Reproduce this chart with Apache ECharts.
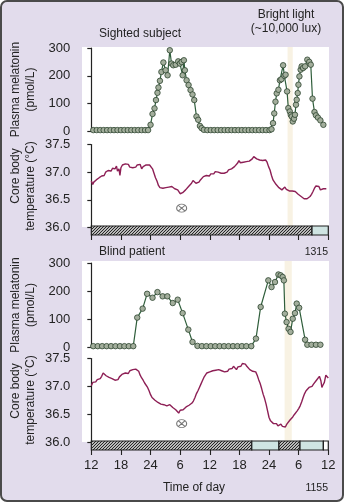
<!DOCTYPE html>
<html>
<head>
<meta charset="utf-8">
<script src="https://cdn.jsdelivr.net/npm/echarts@6/dist/echarts.min.js"></script>
<style>
  html, body { margin: 0; padding: 0; background: #ffffff; }
  #chart { width: 344px; height: 502px; }
</style>
</head>
<body>
<div id="chart"></div>
<script>
// Time is measured in hours from noon of the first day (0 .. 48).
const tickLabels = ['12', '18', '24', '6', '12', '18', '24', '6', '12'];

// Sighted subject: plasma melatonin (pmol/L)
const sightedMelatonin = [
  [0.4,5],[1.1,5],[1.8,5],[2.5,5],[3.2,5],[3.9,5],[4.6,5],[5.3,5],[6.0,5],[6.7,5],[7.4,5],[8.1,5],[8.8,5],[9.5,5],[10.2,5],[10.9,5],[11.5,5],
  [12.0,24],[12.4,63],[12.8,83],[13.1,113],[13.4,139],[13.6,158],[13.9,182],[14.2,214],[14.6,248],[15.05,220],[15.45,202],[15.9,292],
  [16.25,244],[16.6,238],[17.1,240],[17.6,252],[17.95,244],[18.3,250],[18.5,202],[18.75,256],[18.95,220],[19.3,184],[19.7,167],
  [20.1,149],[20.5,133],[20.85,113],[21.3,54],[21.65,42],[22.0,20],[22.35,12],[22.8,6],
  [23.5,5],[24.2,5],[24.9,5],[25.6,5],[26.3,5],[27.0,5],[27.7,5],[28.4,5],[29.1,5],[29.8,5],[30.5,5],[31.2,5],[31.9,5],[32.6,5],
  [33.3,5],[34.0,5],[34.7,5],[35.4,5],[36.1,5],
  [36.5,8],[36.8,30],[37.05,65],[37.3,107],[37.55,137],[37.9,150],[38.2,184],[38.5,188],[38.85,238],[39.1,200],[39.35,204],
  [39.65,144],[39.9,84],[40.2,72],[40.4,60],[40.6,54],[40.8,36],[41.05,46],[41.25,60],[41.45,96],[41.6,114],[41.8,138],
  [41.95,168],[42.15,198],[42.4,222],[42.6,234],[42.9,228],[43.3,234],[43.75,258],[44.15,250],[44.45,240],[44.8,118],
  [45.2,70],[45.5,58],[45.9,50],[46.4,40],[47.0,24]
];

// Sighted subject: core body temperature (°C)
const sightedTemperature = [
  [0.0,36.84],[0.3,36.78],[0.5,36.82],[0.8,36.80],[1.0,36.86],[1.3,36.84],[1.6,36.90],[1.8,36.88],[2.1,36.93],[2.4,36.96],
  [2.6,36.94],[2.9,37.00],[3.2,36.98],[3.4,37.03],[3.7,37.05],[4.0,37.02],[4.3,37.07],[4.6,37.09],[4.8,37.06],[5.1,37.11],
  [5.3,37.02],[5.6,37.06],[5.8,36.94],[6.0,37.08],[6.3,37.13],[6.6,37.10],[6.9,37.15],[7.2,37.12],[7.5,37.14],[7.8,37.09],
  [8.1,37.12],[8.4,37.08],[8.7,37.11],[9.0,37.09],[9.3,37.13],[9.6,37.10],[9.9,37.14],[10.2,37.06],[10.5,37.10],[10.8,37.12],
  [11.1,37.13],[11.4,37.10],[11.8,37.13],[12.1,37.11],[12.4,37.06],[12.7,36.98],[13.0,36.90],[13.3,36.84],[13.6,36.76],[13.9,36.72],
  [14.2,36.69],[14.5,36.71],[14.8,36.69],[15.1,36.72],[15.4,36.70],[15.7,36.73],[16.0,36.71],[16.3,36.74],[16.6,36.72],[16.9,36.70],
  [17.2,36.72],[17.5,36.68],[17.8,36.66],[18.0,36.61],[18.2,36.58],[18.5,36.63],[18.8,36.66],[19.1,36.68],[19.4,36.70],[19.7,36.74],
  [20.0,36.76],[20.3,36.80],[20.6,36.85],[20.9,36.82],[21.2,36.80],[21.5,36.83],[21.8,36.82],[22.1,36.86],[22.4,36.88],[22.7,36.92],
  [23.0,36.90],[23.3,36.94],[23.6,36.96],[23.9,36.93],[24.2,36.97],[24.5,36.99],[24.8,36.97],[25.1,37.01],[25.4,37.03],[25.7,37.00],
  [26.0,37.02],[26.3,36.98],[26.6,37.00],[26.9,36.98],[27.2,37.01],[27.5,37.00],[27.8,37.04],[28.1,37.03],[28.4,37.06],[28.7,37.07],
  [29.0,37.10],[29.3,37.12],[29.6,37.16],[29.9,37.21],[30.2,37.17],[30.5,37.15],[30.8,37.18],[31.1,37.16],[31.4,37.19],[31.7,37.17],
  [32.0,37.20],[32.3,37.22],[32.6,37.24],[32.9,37.28],[33.2,37.26],[33.5,37.24],[33.8,37.26],[34.1,37.22],[34.4,37.25],[34.7,37.21],
  [35.0,37.18],[35.3,37.22],[35.6,37.18],[35.9,37.10],[36.2,37.04],[36.5,36.94],[36.8,36.86],[37.1,36.82],[37.4,36.78],[37.7,36.75],
  [38.0,36.72],[38.3,36.70],[38.6,36.68],[38.9,36.70],[39.2,36.73],[39.5,36.69],[39.8,36.67],[40.1,36.66],[40.4,36.68],[40.7,36.66],
  [41.0,36.64],[41.3,36.65],[41.6,36.62],[41.9,36.60],[42.2,36.58],[42.5,36.56],[42.8,36.54],[43.1,36.52],[43.4,36.53],[43.7,36.52],
  [44.0,36.54],[44.3,36.56],[44.6,36.60],[44.9,36.65],[45.2,36.71],[45.5,36.75],[45.8,36.77],[46.1,36.74],[46.4,36.68],[46.7,36.66],
  [47.0,36.70],[47.3,36.68],[47.6,36.70]
];

// Blind patient: plasma melatonin (pmol/L)
const blindMelatonin = [
  [0.4,3],[1.3,3],[2.2,3],[3.1,3],[4.0,3],[4.9,3],[5.8,3],[6.7,3],[7.6,3],[8.5,3],
  [9.3,105],[10.4,137],[11.3,190],[12.4,176],[13.4,196],[14.45,181],[15.4,181],[16.5,157],[17.5,169],[18.5,121],[19.65,62],
  [20.5,18],[21.5,4],
  [22.4,3],[23.3,3],[24.2,3],[25.1,3],[26.0,3],[26.9,3],[27.8,3],[28.7,3],[29.6,3],[30.5,3],[31.4,3],[32.4,3],
  [33.35,30],[34.3,143],[35.85,238],[36.5,214],[37.2,232],[37.9,259],[38.35,256],[38.75,250],[39.0,238],[39.2,119],
  [39.55,89],[39.95,65],[40.35,54],[40.8,101],[41.25,121],[41.6,155],[42.1,140],[43.3,26],[43.75,8],[44.6,8],[45.5,8],[46.4,8]
];

// Blind patient: core body temperature (°C)
const blindTemperature = [
  [0.0,37.01],[0.3,37.07],[0.6,37.10],[0.9,37.08],[1.2,37.12],[1.5,37.11],[1.8,37.14],[2.1,37.18],[2.4,37.24],[2.7,37.21],
  [3.0,37.19],[3.3,37.18],[3.6,37.16],[3.9,37.17],[4.2,37.14],[4.5,37.12],[4.8,37.11],[5.1,37.09],[5.4,37.12],[5.7,37.17],
  [6.0,37.20],[6.3,37.22],[6.6,37.20],[6.9,37.24],[7.2,37.25],[7.5,37.23],[7.8,37.28],[8.1,37.27],[8.4,37.30],[8.7,37.33],
  [9.0,37.31],[9.3,37.32],[9.6,37.27],[9.9,37.20],[10.2,37.15],[10.5,37.11],[10.8,37.06],[11.1,37.03],[11.4,36.98],[11.7,36.92],
  [12.0,36.85],[12.3,36.80],[12.6,36.77],[12.9,36.75],[13.2,36.72],[13.5,36.71],[13.8,36.69],[14.1,36.68],[14.4,36.66],[14.7,36.67],
  [15.0,36.64],[15.3,36.65],[15.6,36.63],[15.9,36.67],[16.2,36.64],[16.5,36.62],[16.8,36.60],[17.1,36.58],[17.4,36.56],[17.7,36.52],
  [18.0,36.57],[18.3,36.55],[18.6,36.58],[18.9,36.61],[19.2,36.63],[19.5,36.64],[19.8,36.66],[20.1,36.65],[20.4,36.70],[20.7,36.74],
  [21.0,36.80],[21.3,36.87],[21.6,36.92],[21.9,36.98],[22.2,37.04],[22.5,37.10],[22.8,37.16],[23.1,37.20],[23.4,37.24],[23.7,37.22],
  [24.0,37.26],[24.3,37.25],[24.6,37.28],[24.9,37.26],[25.2,37.29],[25.5,37.27],[25.8,37.30],[26.1,37.31],[26.4,37.28],[26.7,37.30],
  [27.0,37.26],[27.3,37.29],[27.6,37.27],[27.9,37.31],[28.2,37.34],[28.5,37.32],[28.8,37.36],[29.1,37.34],[29.4,37.30],[29.7,37.35],
  [30.0,37.38],[30.3,37.36],[30.6,37.41],[30.9,37.44],[31.2,37.40],[31.5,37.36],[31.8,37.33],[32.1,37.30],[32.4,37.31],[32.7,37.27],
  [33.0,37.25],[33.3,37.26],[33.6,37.20],[33.9,37.12],[34.2,37.05],[34.5,36.96],[34.8,36.86],[35.1,36.78],[35.4,36.68],[35.7,36.56],
  [36.0,36.44],[36.3,36.38],[36.6,36.35],[36.9,36.33],[37.2,36.31],[37.5,36.33],[37.8,36.29],[38.1,36.27],[38.4,36.32],[38.7,36.28],
  [39.0,36.30],[39.3,36.27],[39.6,36.32],[39.9,36.35],[40.2,36.39],[40.5,36.42],[40.8,36.45],[41.1,36.49],[41.4,36.52],[41.7,36.56],
  [42.0,36.60],[42.3,36.65],[42.6,36.72],[42.9,36.80],[43.2,36.87],[43.5,36.92],[43.8,36.95],[44.1,36.98],[44.4,37.01],[44.7,37.00],
  [45.0,37.04],[45.3,37.07],[45.6,37.11],[45.9,37.14],[46.2,37.18],[46.5,37.10],[46.7,36.98],[46.9,37.02],[47.2,37.07],[47.5,37.20],
  [47.7,37.17],[48.0,37.15]
];

// Temperature minimum markers [hour, °C]
const sightedTempMin = [[18.3, 36.35]];
const blindTempMin = [[18.3, 36.33]];

// Bright-light exposure windows [from, to] in hours
const sightedBrightLight = [[39.75, 40.8]];
const blindBrightLight = [[39.15, 40.6]];

// Light/dark schedule bars: [from, to, kind]
const sightedSchedule = [[0, 44.7, 'dark'], [44.7, 48, 'light']];
const blindSchedule = [[0, 32.5, 'dark'], [32.5, 38.0, 'light'], [38.0, 42.27, 'dark'], [42.27, 47.0, 'light'], [47.0, 48, 'none']];

const FONT = '"Liberation Sans", Arial, Helvetica, sans-serif';
const INK = '#232323';
const MEL_LINE = '#2f5e3b';
const MEL_FILL = '#a3ae9c';
const MEL_EDGE = '#2c442f';
const TEMP_LINE = '#8d1f55';
const BAND = '#f8f2e3';
const TEAL = '#cfe4e2';
const LAVENDER = '#e2dcec';

// Diagonal hatch tile for the dark-period bars
const hatchCanvas = document.createElement('canvas');
hatchCanvas.width = 3; hatchCanvas.height = 3;
(function () {
  const c = hatchCanvas.getContext('2d');
  c.fillStyle = '#ffffff';
  c.fillRect(0, 0, 3, 3);
  c.strokeStyle = '#1f1f1f';
  c.lineWidth = 1.2;
  c.beginPath();
  c.moveTo(-1, 4); c.lineTo(4, -1);
  c.moveTo(-1, 1); c.lineTo(1, -1);
  c.moveTo(2, 4); c.lineTo(4, 2);
  c.stroke();
})();
const HATCH = { image: hatchCanvas, repeat: 'repeat' };

const chart = echarts.init(document.getElementById('chart'), null, { renderer: 'canvas' });

const GRID_LEFT = 91.3;
const GRID_RIGHT = 15.7;

function spanRect(params, api) {
  const a = api.coord([api.value(0), 1]);
  const b = api.coord([api.value(1), 0]);
  return { type: 'rect', shape: { x: a[0], y: a[1], width: b[0] - a[0], height: b[1] - a[1] }, style: { fill: BAND } };
}

function scheduleRenderer(schedule) {
  return function (params, api) {
    const a = api.coord([api.value(0), 1]);
    const b = api.coord([api.value(1), 0]);
    const kind = schedule[params.dataIndex][2];
    const fill = kind === 'dark' ? HATCH : (kind === 'light' ? TEAL : '#ffffff');
    return {
      type: 'rect',
      shape: { x: a[0], y: a[1], width: b[0] - a[0], height: b[1] - a[1] },
      style: { fill: fill, stroke: '#1e1e1e', lineWidth: 1.2 }
    };
  };
}

const hiddenX = { type: 'value', min: 0, max: 48, show: false };
const hiddenY = { type: 'value', min: 0, max: 1, show: false };

function timeAxis(gridIndex, withLabels) {
  return {
    type: 'value', gridIndex: gridIndex, min: 0, max: 48, interval: 6, position: 'bottom',
    axisLine: { show: false },
    axisTick: { show: true, length: 5, lineStyle: { color: INK, width: 1.1 } },
    splitLine: { show: false },
    axisLabel: {
      show: withLabels, margin: 9, fontSize: 13, color: INK, fontFamily: FONT,
      formatter: function (v) { return tickLabels[Math.round(v / 6)]; }
    }
  };
}

function valueAxis(gridIndex, min, max, interval, digits) {
  return {
    type: 'value', gridIndex: gridIndex, min: min, max: max, interval: interval,
    position: 'left', offset: 13,
    axisLine: { show: true, lineStyle: { color: INK, width: 1.2 } },
    axisTick: { show: true, length: 4, lineStyle: { color: INK, width: 1.2 } },
    splitLine: { show: false },
    axisLabel: {
      margin: 8, fontSize: 13, color: INK, fontFamily: FONT,
      formatter: function (v) { return v.toFixed(digits); }
    }
  };
}

function vtext(x, y, text) {
  return {
    type: 'text', x: x, y: y, rotation: Math.PI / 2, z: 5,
    style: { text: text, font: '12px ' + FONT, fill: INK, align: 'center', verticalAlign: 'middle' }
  };
}
function htext(x, y, text, align, size) {
  return {
    type: 'text', x: x, y: y, z: 5,
    style: { text: text, font: (size || 12) + 'px ' + FONT, fill: INK, align: align, verticalAlign: 'middle' }
  };
}

const melSymbol = {
  type: 'line', symbol: 'circle', symbolSize: 5.5, showSymbol: true, z: 4,
  lineStyle: { color: MEL_LINE, width: 1.2 },
  itemStyle: { color: MEL_FILL, borderColor: MEL_EDGE, borderWidth: 0.8 }
};
const tempLine = {
  type: 'line', symbol: 'none', z: 3,
  lineStyle: { color: TEMP_LINE, width: 1.4 }
};
const minMarker = {
  type: 'scatter', z: 4,
  symbol: 'path://M0,4 A5,4 0 1,1 10,4 A5,4 0 1,1 0,4 Z M1.8,1.3 L8.2,6.7 M8.2,1.3 L1.8,6.7',
  symbolSize: [10, 8],
  itemStyle: { color: 'rgba(0,0,0,0)', borderColor: '#555555', borderWidth: 1 }
};

const option = {
  animation: false,
  backgroundColor: '#ffffff',
  graphic: [
    { type: 'rect', z: -10, shape: { x: 1, y: 1, width: 342, height: 500, r: 6 },
      style: { fill: LAVENDER, stroke: '#4a4a4a', lineWidth: 2 } },
    { type: 'rect', z: -9, shape: { x: 82, y: 47, width: 247, height: 180 }, style: { fill: '#ffffff' } },
    { type: 'rect', z: -9, shape: { x: 82, y: 261, width: 247, height: 181 }, style: { fill: '#ffffff' } },
    htext(99, 34, 'Sighted subject', 'left'),
    htext(286, 15, 'Bright light', 'center'),
    htext(286, 29, '(~10,000 lux)', 'center'),
    htext(99, 252, 'Blind patient', 'left'),
    htext(328, 252, '1315', 'right', 10.5),
    htext(194, 488, 'Time of day', 'center'),
    htext(328, 488, '1155', 'right', 10.5),
    vtext(16, 89.5, 'Plasma melatonin'),
    vtext(31, 89.5, '(pmol/L)'),
    vtext(16, 176, 'Core body'),
    vtext(31, 186, 'temperature (°C)'),
    vtext(16, 305, 'Plasma melatonin'),
    vtext(31, 305, '(pmol/L)'),
    vtext(16, 391, 'Core body'),
    vtext(31, 400, 'temperature (°C)')
  ],
  grid: [
    { left: GRID_LEFT, right: GRID_RIGHT, top: 47, height: 179 },   // 0 light band, sighted
    { left: GRID_LEFT, right: GRID_RIGHT, top: 48, height: 83.5 },  // 1 melatonin, sighted
    { left: GRID_LEFT, right: GRID_RIGHT, top: 144.5, height: 83 }, // 2 temperature, sighted
    { left: GRID_LEFT, right: GRID_RIGHT, top: 226, height: 9 },    // 3 schedule, sighted
    { left: GRID_LEFT, right: GRID_RIGHT, top: 261, height: 180 },  // 4 light band, blind
    { left: GRID_LEFT, right: GRID_RIGHT, top: 263, height: 84 },   // 5 melatonin, blind
    { left: GRID_LEFT, right: GRID_RIGHT, top: 358.5, height: 83.5 },// 6 temperature, blind
    { left: GRID_LEFT, right: GRID_RIGHT, top: 441, height: 9 }     // 7 schedule, blind
  ],
  xAxis: [
    Object.assign({ gridIndex: 0 }, hiddenX),
    Object.assign({ gridIndex: 1 }, hiddenX),
    Object.assign({ gridIndex: 2 }, hiddenX),
    timeAxis(3, false),
    Object.assign({ gridIndex: 4 }, hiddenX),
    Object.assign({ gridIndex: 5 }, hiddenX),
    Object.assign({ gridIndex: 6 }, hiddenX),
    timeAxis(7, true)
  ],
  yAxis: [
    Object.assign({ gridIndex: 0 }, hiddenY),
    valueAxis(1, 0, 300, 100, 0),
    valueAxis(2, 36, 37.5, 0.5, 1),
    Object.assign({ gridIndex: 3 }, hiddenY),
    Object.assign({ gridIndex: 4 }, hiddenY),
    valueAxis(5, 0, 300, 100, 0),
    valueAxis(6, 36, 37.5, 0.5, 1),
    Object.assign({ gridIndex: 7 }, hiddenY)
  ],
  series: [
    { type: 'custom', xAxisIndex: 0, yAxisIndex: 0, z: 1, renderItem: spanRect, encode: { x: [0, 1] }, data: sightedBrightLight },
    Object.assign({ xAxisIndex: 1, yAxisIndex: 1, data: sightedMelatonin }, melSymbol),
    Object.assign({ xAxisIndex: 2, yAxisIndex: 2, data: sightedTemperature }, tempLine),
    Object.assign({ xAxisIndex: 2, yAxisIndex: 2, data: sightedTempMin }, minMarker),
    { type: 'custom', xAxisIndex: 3, yAxisIndex: 3, z: 2, renderItem: scheduleRenderer(sightedSchedule), encode: { x: [0, 1] },
      data: sightedSchedule.map(function (s) { return [s[0], s[1]]; }) },
    { type: 'custom', xAxisIndex: 4, yAxisIndex: 4, z: 1, renderItem: spanRect, encode: { x: [0, 1] }, data: blindBrightLight },
    Object.assign({ xAxisIndex: 5, yAxisIndex: 5, data: blindMelatonin }, melSymbol),
    Object.assign({ xAxisIndex: 6, yAxisIndex: 6, data: blindTemperature }, tempLine),
    Object.assign({ xAxisIndex: 6, yAxisIndex: 6, data: blindTempMin }, minMarker),
    { type: 'custom', xAxisIndex: 7, yAxisIndex: 7, z: 2, renderItem: scheduleRenderer(blindSchedule), encode: { x: [0, 1] },
      data: blindSchedule.map(function (s) { return [s[0], s[1]]; }) }
  ]
};

chart.setOption(option);
</script>
</body>
</html>
